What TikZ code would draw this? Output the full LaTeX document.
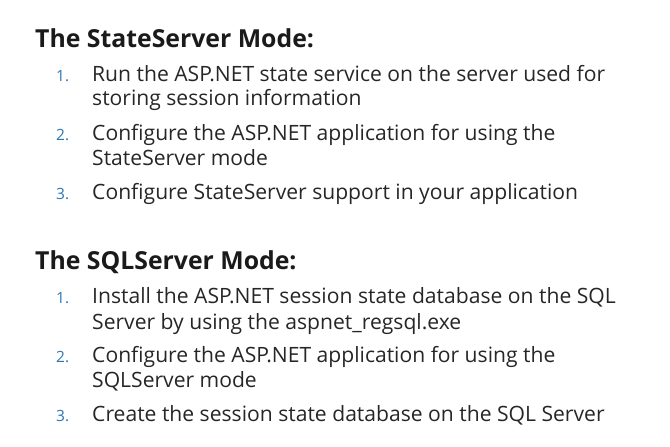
\documentclass[tikz,border=0pt]{standalone}
\usepackage{fontspec}
\setmainfont{Open Sans}
\definecolor{headc}{HTML}{1A1A1A}
\definecolor{textc}{HTML}{262626}
\definecolor{numc}{HTML}{2E75B6}
\begin{document}
\begin{tikzpicture}[x=1pt,y=-1pt,
  head/.style={anchor=base west,inner sep=0pt,font=\fontsize{24.8}{30}\selectfont\bfseries,text=headc},
  item/.style={anchor=base west,inner sep=0pt,font=\fontsize{21.1}{25}\selectfont,text=textc},
  num/.style={anchor=base west,inner sep=0pt,font=\fontsize{15.5}{18}\selectfont,text=numc}]
\useasboundingbox (0,0) rectangle (670,447);
\node[head] (h1) at (35,47.7) {The StateServer Mode:};
\node[num] (n11) at (56,81) {1.};
\node[item] (t11) at (92,81) {Run the ASP.NET state service on the server used for};
\node[item] (t11b) at (92,105.5) {storing session information};
\node[num] (n12) at (56,140.5) {2.};
\node[item] (t12) at (92,140.5) {Configure the ASP.NET application for using the};
\node[item] (t12b) at (92,165) {StateServer mode};
\node[num] (n13) at (56,199) {3.};
\node[item] (t13) at (92,199) {Configure StateServer support in your application};
\node[head] (h2) at (35,269.5) {The SQLServer Mode:};
\node[num] (n21) at (56,303.5) {1.};
\node[item] (t21) at (92,303.5) {Install the ASP.NET session state database on the SQL};
\node[item] (t21b) at (92,329) {Server by using the aspnet\_regsql.exe};
\node[num] (n22) at (56,362) {2.};
\node[item] (t22) at (92,362) {Configure the ASP.NET application for using the};
\node[item] (t22b) at (92,387) {SQLServer mode};
\node[num] (n23) at (56,421.5) {3.};
\node[item] (t23) at (92,421.5) {Create the session state database on the SQL Server};
\end{tikzpicture}
\end{document}
